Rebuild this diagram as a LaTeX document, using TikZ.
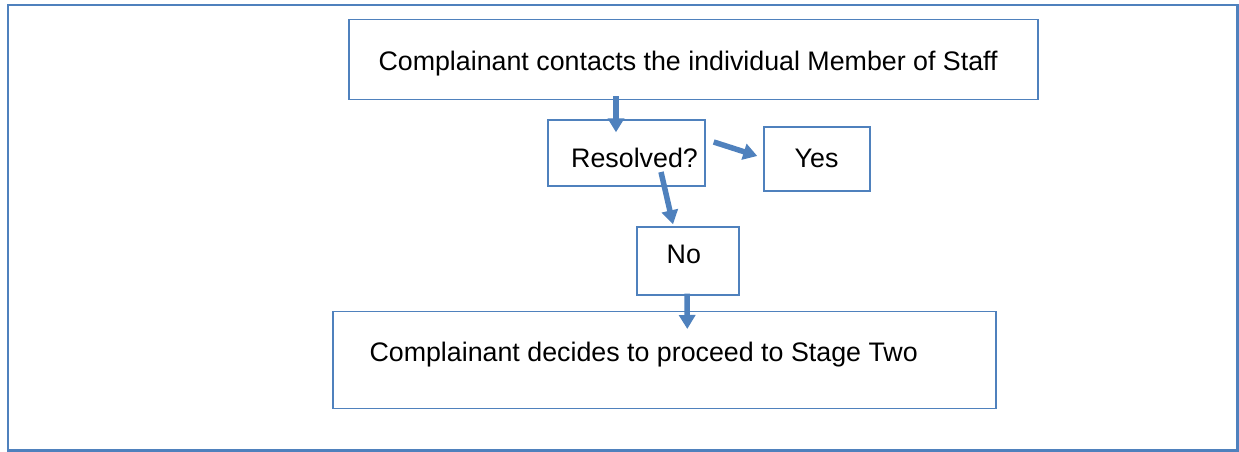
\documentclass[tikz,border=0pt]{standalone}
\usepackage{fontspec}
\setmainfont{Liberation Sans}
\usetikzlibrary{arrows.meta}
\definecolor{obl}{HTML}{4F81BD}
\begin{document}
\begin{tikzpicture}[x=1pt,y=1pt,
  box/.style={draw=obl,line width=1.4pt,rectangle,inner sep=0pt},
  txt/.style={anchor=base west,inner sep=0pt,font=\fontsize{26.8}{30}\selectfont},
  arr/.style={draw=obl,line width=5.5pt,-{Triangle[width=16pt,length=14pt]}}]
\useasboundingbox (0,0) rectangle (1239,-452);
\draw[obl,line width=2.2pt] (8,-5) rectangle (1237.5,-450.5);
% boxes (center, size)
\node[box,minimum width=689pt,minimum height=80pt] (top) at (693.3,-59.7) {};
\node[box,minimum width=157pt,minimum height=66pt] (res) at (626.5,-153) {};
\node[box,minimum width=106pt,minimum height=64pt] (yes) at (817,-159) {};
\node[box,minimum width=102pt,minimum height=68pt] (no) at (688,-261) {};
\node[box,minimum width=663pt,minimum height=97pt] (bot) at (664.3,-360.2) {};
% texts
\node[txt] (toptext) at (378.3,-70.7) {Complainant contacts the individual Member of Staff};
\node[txt] (restext) at (571,-167.3) {Resolved?};
\node[txt] (yestext) at (794.5,-167) {Yes};
\node[txt] (notext) at (666.5,-263.3) {No};
\node[txt] (bottext) at (369.3,-361) {Complainant decides to proceed to Stage Two};
% arrows
\draw[arr] ([xshift=-77.3pt,yshift=4pt]top.south) -- ([xshift=-10.5pt,yshift=-13pt]res.north);
\draw[arr] ([xshift=8pt,yshift=11pt]res.east) -- ([xshift=-6pt,yshift=3pt]yes.west);
\draw[arr] ([xshift=34.5pt,yshift=-19pt]res.center) -- ([xshift=-15pt,yshift=2pt]no.north);
\draw[arr] ([xshift=-1pt,yshift=2pt]no.south) -- ([xshift=23pt,yshift=-18pt]bot.north);
\end{tikzpicture}
\end{document}
